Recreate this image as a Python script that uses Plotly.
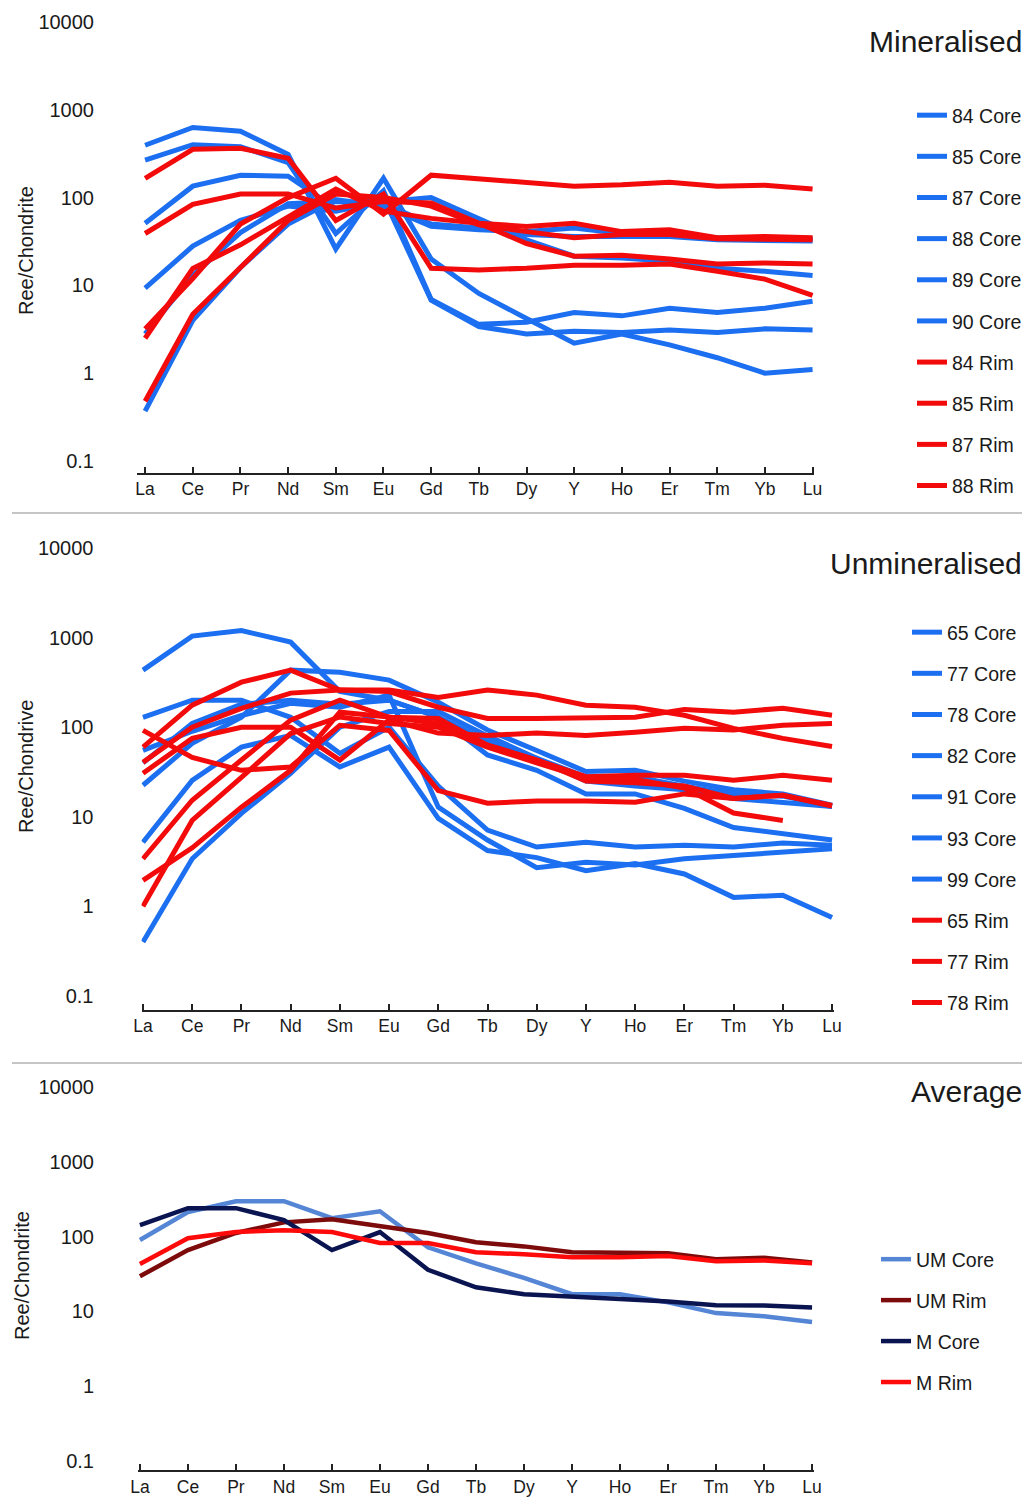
import plotly.graph_objects as go

# Chondrite-normalised REE patterns: element order along the x axis
elements = ["La", "Ce", "Pr", "Nd", "Sm", "Eu", "Gd", "Tb", "Dy", "Y", "Ho", "Er", "Tm", "Yb", "Lu"]

y_tick_vals = [0.1, 1, 10, 100, 1000, 10000]
y_tick_text = ["0.1", "1", "10", "100", "1000", "10000"]

# ---- Mineralised samples ----
min_core_84 = [395, 630, 570, 310, 26, 166, 20, 8.1, 4.2, 2.2, 2.8, 2.1, 1.5, 1.0, 1.1]
min_core_85 = [267, 400, 380, 250, 39, 120, 6.9, 3.6, 3.8, 4.9, 4.5, 5.5, 4.9, 5.5, 6.6]
min_core_87 = [51, 135, 180, 175, 75, 100, 6.8, 3.4, 2.8, 3.0, 2.9, 3.1, 2.9, 3.2, 3.1]
min_core_88 = [9.3, 28, 55, 80, 70, 90, 100, 58, 33, 21.5, 20.5, 18.8, 15.7, 14.5, 13]
min_core_89 = [0.37, 4.0, 16, 50, 95, 80, 47, 43, 41, 45, 39, 39, 35, 35, 34]
min_core_90 = [2.8, 13, 40, 85, 90, 85, 50, 45, 38, 36, 36, 36, 33, 33, 32]

min_rim_84 = [166, 355, 365, 280, 55, 110, 15.7, 15, 15.7, 17, 17, 17.5, 14.5, 11.8, 7.7]
min_rim_85 = [39, 84, 110, 110, 76, 90, 87, 51, 30, 21.5, 22, 20, 17.5, 18, 17.5]
min_rim_87 = [3.2, 12, 50, 100, 166, 65, 180, 162, 150, 135, 140, 150, 135, 138, 125]
min_rim_88 = [2.5, 15.6, 29, 60, 125, 70, 58, 51, 47, 51, 41, 43, 35, 36, 35]
min_rim_89 = [0.48, 4.7, 16, 55, 110, 100, 80, 49, 41, 35, 38, 38, 34, 34, 33]

# ---- Unmineralised samples ----
um_core_65 = [433, 1040, 1200, 890, 250, 200, 130, 49, 33, 18, 18, 12.4, 7.6, 6.5, 5.5]
um_core_77 = [22.5, 66, 129, 433, 410, 335, 190, 93, 55, 32, 33, 25, 20, 18, 13.5]
um_core_78 = [129, 200, 200, 129, 51, 100, 22, 7.1, 4.6, 5.2, 4.6, 4.8, 4.6, 5.1, 4.8]
um_core_82 = [55, 90, 135, 185, 167, 228, 12.8, 5.5, 2.7, 3.1, 2.9, 3.4, 3.7, 4.0, 4.4]
um_core_91 = [5.2, 25.5, 60, 81, 36, 60, 9.6, 4.2, 3.5, 2.5, 3.0, 2.3, 1.26, 1.33, 0.75]
um_core_93 = [0.40, 3.4, 10.9, 30.6, 100, 150, 150, 80, 45, 25, 22, 20, 16, 14.5, 13]
um_core_99 = [40, 110, 180, 200, 180, 200, 130, 70, 45, 28, 28, 22, 18, 17, 13]

um_rim_65 = [60, 176, 318, 433, 260, 260, 215, 260, 228, 176, 167, 136, 97, 75, 61]
um_rim_77 = [40.5, 100, 162, 240, 260, 250, 167, 125, 125, 129, 129, 158, 147, 163, 136]
um_rim_78 = [30.6, 75, 100, 100, 43, 120, 86, 81, 86, 81, 88, 97, 93, 105, 110]
um_rim_82 = [92, 46, 33, 36, 105, 92, 19.6, 14.2, 15, 15, 14.5, 18, 16, 17.4, 13.2]
um_rim_91 = [3.4, 15.3, 43, 120, 200, 129, 125, 63, 43, 25, 24, 22, 16, 17.4, 13.4]
um_rim_93 = [1.95, 4.5, 12.8, 33, 147, 130, 110, 63, 43, 28, 29, 29, 25.5, 29, 25.5]
um_rim_99 = [1.0, 9.1, 27.5, 85, 130, 110, 100, 60, 40, 27, 26, 21, 11, 9.1, None]

# ---- Group averages ----
avg_um_core = [90, 213, 297, 297, 176, 218, 72, 44, 28, 17, 17, 13.2, 9.5, 8.6, 7.2]
avg_um_rim = [29.5, 66, 112, 155, 170, 138, 112, 84, 74, 62, 62, 60, 50, 52, 45]
avg_m_core = [142, 240, 240, 166, 66, 115, 36, 21, 17, 15.5, 14.6, 13.6, 12.1, 12, 11.3]
avg_m_rim = [43, 95, 115, 122, 115, 82, 82, 62, 58, 53, 53, 55, 47, 48, 44]

BLUE = "#1c6ff0"
RED = "#f30a0a"
FONT = "Liberation Sans, Arial, Helvetica, sans-serif"
TXT = "#1a1a1a"

W, H = 1029, 1503
xs = list(range(len(elements)))

# (label, values, colour, listed in legend)
panel_top = [
    ("84 Core", min_core_84, BLUE, True),
    ("85 Core", min_core_85, BLUE, True),
    ("87 Core", min_core_87, BLUE, True),
    ("88 Core", min_core_88, BLUE, True),
    ("89 Core", min_core_89, BLUE, True),
    ("90 Core", min_core_90, BLUE, True),
    ("84 Rim", min_rim_84, RED, True),
    ("85 Rim", min_rim_85, RED, True),
    ("87 Rim", min_rim_87, RED, True),
    ("88 Rim", min_rim_88, RED, True),
    ("89 Rim", min_rim_89, RED, False),
]
panel_mid = [
    ("65 Core", um_core_65, BLUE, True),
    ("77 Core", um_core_77, BLUE, True),
    ("78 Core", um_core_78, BLUE, True),
    ("82 Core", um_core_82, BLUE, True),
    ("91 Core", um_core_91, BLUE, True),
    ("93 Core", um_core_93, BLUE, True),
    ("99 Core", um_core_99, BLUE, True),
    ("65 Rim", um_rim_65, RED, True),
    ("77 Rim", um_rim_77, RED, True),
    ("78 Rim", um_rim_78, RED, True),
    ("82 Rim", um_rim_82, RED, False),
    ("91 Rim", um_rim_91, RED, False),
    ("93 Rim", um_rim_93, RED, False),
    ("99 Rim", um_rim_99, RED, False),
]
panel_avg = [
    ("UM Core", avg_um_core, "#5585d5", True),
    ("UM Rim", avg_um_rim, "#7d0b0b", True),
    ("M Core", avg_m_core, "#0a1450", True),
    ("M Rim", avg_m_rim, "#ff0a0a", True),
]

fig = go.Figure()


def add_panel(series, xa, ya, legend_id, width):
    for name, vals, col, show in series:
        fig.add_trace(go.Scatter(
            x=xs, y=vals, mode="lines", name=name,
            line=dict(color=col, width=width),
            xaxis=xa, yaxis=ya, legend=legend_id,
            legendgroup=legend_id + name, showlegend=show,
            hovertemplate="%{y}<extra>" + name + "</extra>",
        ))


add_panel(panel_top, "x", "y", "legend", 5)
add_panel(panel_mid, "x2", "y2", "legend2", 5)
add_panel(panel_avg, "x3", "y3", "legend3", 4.5)


def px_x(p):
    return p / W


def px_y(p):
    return 1 - p / H


def xaxis_cfg(left, right, xmin, anchor):
    return dict(
        domain=[px_x(left), px_x(right)], range=[xmin, 14.03], anchor=anchor,
        tickvals=xs, ticktext=elements, tickfont=dict(family=FONT, size=17.5, color=TXT),
        showline=True, linecolor="#222", linewidth=1.5,
        ticks="inside", ticklen=6, tickwidth=1.5, tickcolor="#222",
        showgrid=False, zeroline=False, automargin=False,
    )


def yaxis_cfg(top, bottom, ymin, anchor, gap):
    return dict(
        domain=[px_y(bottom), px_y(top)], type="log", range=[ymin, 4.0], anchor=anchor,
        tickvals=y_tick_vals, ticktext=y_tick_text,
        tickfont=dict(family=FONT, size=20, color=TXT),
        ticks="outside", ticklen=gap, tickcolor="rgba(0,0,0,0)",
        showline=False, showgrid=False, zeroline=False, automargin=False,
    )


def legend_cfg(left, top, gap):
    return dict(
        x=px_x(left), xanchor="left", y=px_y(top), yanchor="top",
        bgcolor="rgba(0,0,0,0)", borderwidth=0,
        font=dict(family=FONT, size=19.5, color=TXT),
        traceorder="grouped", tracegroupgap=gap, itemwidth=30,
    )


fig.update_layout(
    template="none",
    width=W, height=H, margin=dict(l=0, r=0, t=0, b=0, autoexpand=False),
    paper_bgcolor="white", plot_bgcolor="white",
    font=dict(family=FONT, color=TXT),
    xaxis=xaxis_cfg(137, 814, -0.17, "y"),
    yaxis=yaxis_cfg(22, 472.5, -1.131, "x", 38),
    xaxis2=xaxis_cfg(141.5, 833.5, -0.03, "y2"),
    yaxis2=yaxis_cfg(548, 1009.5, -1.151, "x2", 43),
    xaxis3=xaxis_cfg(138, 813.5, -0.04, "y3"),
    yaxis3=yaxis_cfg(1087, 1470, -1.12, "x3", 39),
    legend=legend_cfg(912, 96, 12.8),
    legend2=legend_cfg(907, 613, 12.8),
    legend3=legend_cfg(876, 1240, 12.6),
    showlegend=True,
)

# panel titles and axis titles
for text, ypx in [("Mineralised", 42), ("Unmineralised", 563), ("Average", 1091)]:
    fig.add_annotation(text=text, xref="paper", yref="paper", x=px_x(1024), y=px_y(ypx),
                       xanchor="right", yanchor="middle", showarrow=False,
                       font=dict(family=FONT, size=30, color=TXT))

for text, xpx, ypx in [("Ree/Chondrite", 26, 251), ("Ree/Chondrive", 26, 767), ("Ree/Chondrite", 22, 1276)]:
    fig.add_annotation(text=text, xref="paper", yref="paper", x=px_x(xpx), y=px_y(ypx),
                       xanchor="center", yanchor="middle", textangle=-90, showarrow=False,
                       font=dict(family=FONT, size=20, color=TXT))

# separators between panels
for ypx in (513, 1063):
    fig.add_shape(type="line", xref="paper", yref="paper", x0=px_x(12), x1=px_x(1022),
                  y0=px_y(ypx), y1=px_y(ypx), line=dict(color="#8c8c8c", width=1.2))

fig.write_html("out.html")
